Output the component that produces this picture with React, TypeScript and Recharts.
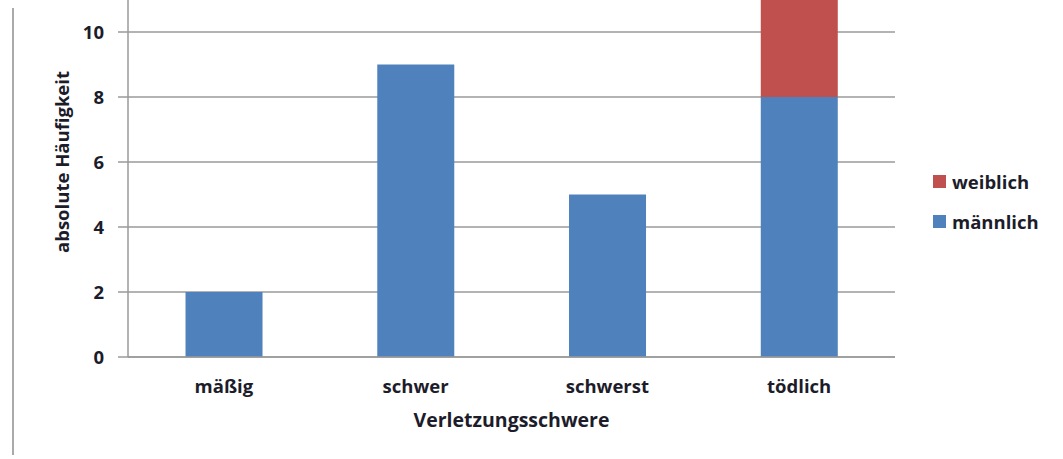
import { BarChart, Bar, XAxis, YAxis, CartesianGrid } from 'recharts';

const categories = ['mäßig', 'schwer', 'schwerst', 'tödlich'];
const maennlich = [2, 9, 5, 8];
const weiblich = [0, 0, 0, 3];
const yTicks = [0, 2, 4, 6, 8, 10];

const series = [
  { key: 'weiblich', label: 'weiblich', color: '#C0504D' },
  { key: 'maennlich', label: 'männlich', color: '#4F81BD' },
];

const data = categories.map((name, i) => ({
  name,
  maennlich: maennlich[i],
  weiblich: weiblich[i],
}));

const FONT = '"Open Sans", sans-serif';
const TEXT = '#1c1c2a';
const GRID = '#9a9a9a';
const FS = 18.5;

function LegendBox() {
  return (
    <div
      style={{
        position: 'absolute',
        left: 933,
        top: 161,
        fontFamily: FONT,
        fontWeight: 700,
        fontSize: FS,
        color: TEXT,
      }}
    >
      {series.map((s) => (
        <div key={s.key} style={{ display: 'flex', alignItems: 'center', height: 40 }}>
          <span style={{ width: 13, height: 13, background: s.color, marginRight: 6 }} />
          <span>{s.label}</span>
        </div>
      ))}
    </div>
  );
}

export default function App() {
  return (
    <div
      style={{
        position: 'fixed',
        left: 0,
        top: 0,
        width: 1063,
        height: 459,
        overflow: 'hidden',
        background: '#fff',
      }}
    >
      <div
        style={{
          position: 'absolute',
          left: 12,
          top: 8,
          width: 2,
          height: 447,
          background: '#aaa',
        }}
      />
      <div style={{ position: 'absolute', left: 0, top: -33 }}>
        <BarChart
          width={1063}
          height={492}
          data={data}
          margin={{ top: 0, right: 168, bottom: 32, left: 0 }}
          barCategoryGap="30%"
        >
          <CartesianGrid vertical={false} stroke={GRID} strokeWidth={1.5} />
          <XAxis
            dataKey="name"
            height={70}
            stroke={GRID}
            strokeWidth={1.5}
            tickLine={false}
            tickSize={0}
            tickMargin={23}
            tick={{ fill: TEXT, fontFamily: FONT, fontWeight: 700, fontSize: FS }}
            label={{
              value: 'Verletzungsschwere',
              position: 'insideBottom',
              offset: 0,
              fill: TEXT,
              fontFamily: FONT,
              fontWeight: 700,
              fontSize: 19.5,
            }}
          />
          <YAxis
            width={128}
            domain={[0, 12]}
            ticks={yTicks}
            interval={0}
            stroke={GRID}
            strokeWidth={1.5}
            tickSize={10}
            tickMargin={14}
            tick={{ fill: TEXT, fontFamily: FONT, fontWeight: 700, fontSize: FS }}
            label={{
              value: 'absolute Häufigkeit',
              angle: -90,
              position: 'insideLeft',
              offset: 62,
              style: { textAnchor: 'middle' },
              fill: TEXT,
              fontFamily: FONT,
              fontWeight: 700,
              fontSize: FS,
            }}
          />
          <Bar dataKey="maennlich" stackId="a" fill="#4F81BD" isAnimationActive={false} />
          <Bar dataKey="weiblich" stackId="a" fill="#C0504D" isAnimationActive={false} />
        </BarChart>
      </div>
      <LegendBox />
    </div>
  );
}
